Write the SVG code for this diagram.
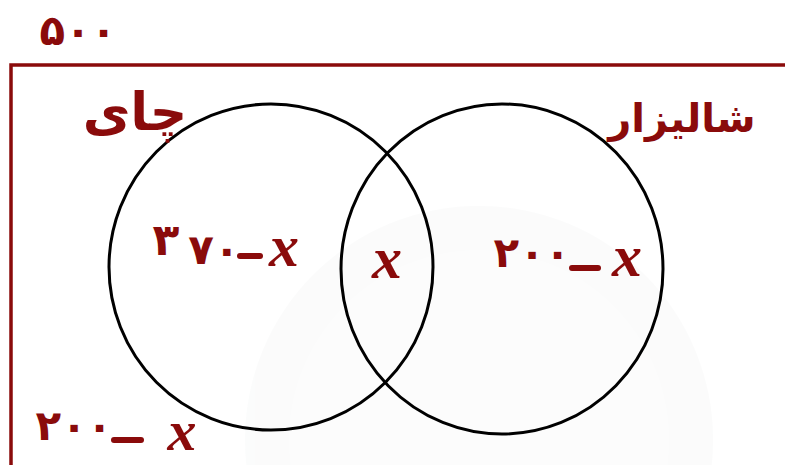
<svg xmlns="http://www.w3.org/2000/svg" width="785" height="465" viewBox="0 0 785 465">
<style>
.hw{fill:#8a0b0b;font-family:"DejaVu Sans","Noto Sans",sans-serif;font-weight:bold}
.num{letter-spacing:-4px}
.mx{fill:#8a0b0b;font-family:"Liberation Serif",serif;font-style:italic;font-weight:bold}
.dash{stroke:#8a0b0b;stroke-width:6;stroke-linecap:round}
.set{fill:none;stroke:#000;stroke-width:3}
</style>
<rect width="785" height="465" fill="#fff"/>
<g id="watermark" opacity="0.35">
<circle cx="479" cy="440" r="234" fill="#f4f5f5"/>
<circle cx="479" cy="440" r="190" fill="#f8f9f9"/>
</g>
<g id="universe">
<path d="M11,470 V65 H790" fill="none" stroke="#8a0b0b" stroke-width="3.5"/>
<text class="hw num" x="78" y="45" font-size="42" text-anchor="middle">۵۰۰</text>
</g>
<g id="set-tea">
<ellipse class="set" cx="271" cy="267" rx="162" ry="163"/>
<text class="hw" x="135" y="130" font-size="52" text-anchor="middle" direction="rtl">چای</text>
<text class="hw" x="166" y="255" font-size="44" text-anchor="middle">۳</text>
<text class="hw num" x="214" y="264" font-size="42" text-anchor="middle">۷۰</text>
<line class="dash" x1="240" y1="256" x2="260" y2="256"/>
<text class="mx" x="284" y="266" font-size="60" text-anchor="middle">x</text>
</g>
<g id="set-paddy">
<ellipse class="set" cx="502" cy="269" rx="161" ry="165"/>
<text class="hw" x="682" y="132" font-size="40" text-anchor="middle" direction="rtl">شالیزار</text>
<text class="hw num" x="532" y="267" font-size="42" text-anchor="middle">۲۰۰</text>
<line class="dash" x1="572" y1="268" x2="598" y2="268"/>
<text class="mx" x="627" y="276" font-size="60" text-anchor="middle">x</text>
</g>
<g id="intersection">
<text class="mx" x="387" y="278" font-size="60" text-anchor="middle">x</text>
</g>
<g id="outside">
<text class="hw num" x="74" y="440" font-size="42" text-anchor="middle">۲۰۰</text>
<line class="dash" x1="114" y1="440" x2="141" y2="440"/>
<text class="mx" x="182" y="450" font-size="58" text-anchor="middle">x</text>
</g>
<g id="connectors"/>
</svg>
